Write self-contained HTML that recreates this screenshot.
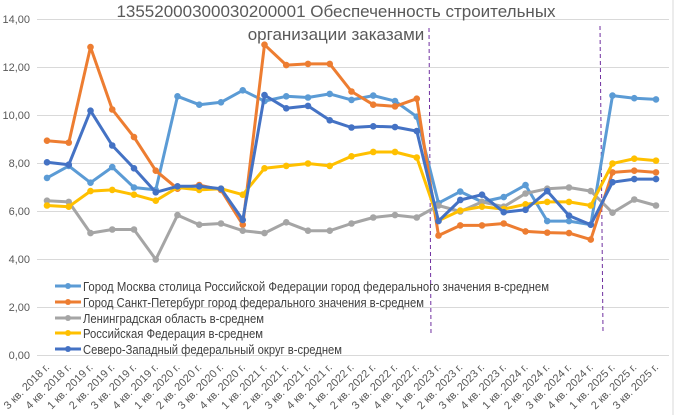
<!DOCTYPE html>
<html><head><meta charset="utf-8"><style>
html,body{margin:0;padding:0;background:#fff;}
svg{display:block;font-family:"Liberation Sans",sans-serif;}
</style></head><body>
<svg width="681" height="415" viewBox="0 0 681 415" xmlns="http://www.w3.org/2000/svg">
<rect x="0" y="0" width="681" height="415" fill="#fff"/>
<line x1="673" y1="0" x2="673" y2="415" stroke="#d9d9d9" stroke-width="1"/>
<g stroke="#d9d9d9" stroke-width="1">
<line x1="37" y1="19.5" x2="669" y2="19.5"/>
<line x1="37" y1="67.5" x2="669" y2="67.5"/>
<line x1="37" y1="115.5" x2="669" y2="115.5"/>
<line x1="37" y1="163.5" x2="669" y2="163.5"/>
<line x1="37" y1="211.5" x2="669" y2="211.5"/>
<line x1="37" y1="259.5" x2="669" y2="259.5"/>
<line x1="37" y1="307.5" x2="669" y2="307.5"/>
<line x1="37" y1="355.5" x2="669" y2="355.5"/>
</g>
<g font-size="11" fill="#595959" text-anchor="end">
<text x="30" y="23">14,00</text>
<text x="30" y="71">12,00</text>
<text x="30" y="119">10,00</text>
<text x="30" y="167">8,00</text>
<text x="30" y="215">6,00</text>
<text x="30" y="263">4,00</text>
<text x="30" y="311">2,00</text>
<text x="30" y="359">0,00</text>
</g>
<g font-size="17" fill="#595959" text-anchor="middle">
<text x="336" y="17">13552000300030200001 Обеспеченность строительных</text>
<text x="336" y="40">организации заказами</text>
</g>
<g stroke="#7030a0" stroke-width="1" stroke-dasharray="4,3">
<line x1="429" y1="28" x2="431" y2="335"/>
<line x1="600" y1="26" x2="603" y2="332"/>
</g>
<g id="series" fill="none" stroke-width="3" stroke-linejoin="round"></g>
<g id="labels" font-size="11" fill="#595959" text-anchor="end"></g>
<g font-size="13" fill="#404040">
<line x1="55" y1="286" x2="81" y2="286" stroke="#5B9BD5" stroke-width="3"/><circle cx="68" cy="286" r="3" fill="#5B9BD5"/>
<text x="83" y="291" textLength="466" lengthAdjust="spacingAndGlyphs">Город Москва столица Российской Федерации город федерального значения в-среднем</text>
<line x1="55" y1="302" x2="81" y2="302" stroke="#ED7D31" stroke-width="3"/><circle cx="68" cy="302" r="3" fill="#ED7D31"/>
<text x="83" y="307" textLength="341" lengthAdjust="spacingAndGlyphs">Город Санкт-Петербург город федерального значения в-среднем</text>
<line x1="55" y1="318" x2="81" y2="318" stroke="#A5A5A5" stroke-width="3"/><circle cx="68" cy="318" r="3" fill="#A5A5A5"/>
<text x="83" y="323" textLength="181" lengthAdjust="spacingAndGlyphs">Ленинградская область в-среднем</text>
<line x1="55" y1="333" x2="81" y2="333" stroke="#FFC000" stroke-width="3"/><circle cx="68" cy="333" r="3" fill="#FFC000"/>
<text x="83" y="338" textLength="180" lengthAdjust="spacingAndGlyphs">Российская Федерация в-среднем</text>
<line x1="55" y1="349" x2="81" y2="349" stroke="#4472C4" stroke-width="3"/><circle cx="68" cy="349" r="3" fill="#4472C4"/>
<text x="83" y="354" textLength="259" lengthAdjust="spacingAndGlyphs">Северо-Западный федеральный округ в-среднем</text>
</g>
<script>
var S=[
["#5B9BD5",[7.4,7.9,7.2,7.85,7.0,6.9,10.8,10.45,10.55,11.05,10.6,10.8,10.75,10.9,10.65,10.83,10.6,9.95,6.35,6.83,6.4,6.6,7.1,5.6,5.6,5.45,10.83,10.72,10.67]],
["#ED7D31",[8.95,8.87,12.85,10.25,9.1,7.7,6.95,7.1,6.9,5.45,12.95,12.1,12.15,12.15,11.0,10.45,10.38,10.7,5.0,5.42,5.42,5.5,5.17,5.12,5.1,4.83,7.63,7.7,7.63]],
["#A5A5A5",[6.45,6.4,5.1,5.25,5.25,4.0,5.85,5.45,5.5,5.2,5.1,5.55,5.2,5.2,5.5,5.75,5.85,5.75,6.25,6.0,6.4,6.2,6.75,6.95,7.0,6.85,5.95,6.5,6.25]],
["#FFC000",[6.25,6.2,6.85,6.9,6.7,6.45,7.0,6.9,6.95,6.7,7.8,7.9,8.0,7.9,8.3,8.48,8.48,8.25,5.62,6.04,6.2,6.1,6.3,6.4,6.4,6.25,8.0,8.2,8.12]],
["#4472C4",[8.05,7.95,10.2,8.75,7.8,6.8,7.05,7.05,6.95,5.65,10.85,10.3,10.4,9.8,9.5,9.55,9.52,9.35,5.6,6.48,6.7,5.97,6.07,6.85,5.83,5.45,7.22,7.35,7.35]]];
var g=document.getElementById('series'),ns="http://www.w3.org/2000/svg";
function X(i){return 47+i*21.75;}function Y(v){return 355.5-24*v;}
S.forEach(function(s){var p=s[1].map(function(v,i){return X(i).toFixed(1)+","+Y(v).toFixed(1);}).join(" ");
var pl=document.createElementNS(ns,"polyline");pl.setAttribute("points",p);pl.setAttribute("stroke",s[0]);g.appendChild(pl);
s[1].forEach(function(v,i){var c=document.createElementNS(ns,"circle");c.setAttribute("cx",X(i));c.setAttribute("cy",Y(v));c.setAttribute("r","3.3");c.setAttribute("fill",s[0]);c.setAttribute("stroke","none");g.appendChild(c);});});
var L=document.getElementById('labels');
for(var i=0;i<29;i++){var q=["3","4","1","2"][i%4];var yr=2018+Math.floor((i+2)/4);
var t=document.createElementNS(ns,"text");var x=X(i)+3,y=368;t.setAttribute("x",x);t.setAttribute("y",y);
t.setAttribute("transform","rotate(-45 "+x+" "+y+")");t.textContent=q+" кв. "+yr+" г.";L.appendChild(t);}
</script>
</svg>
</body></html>
